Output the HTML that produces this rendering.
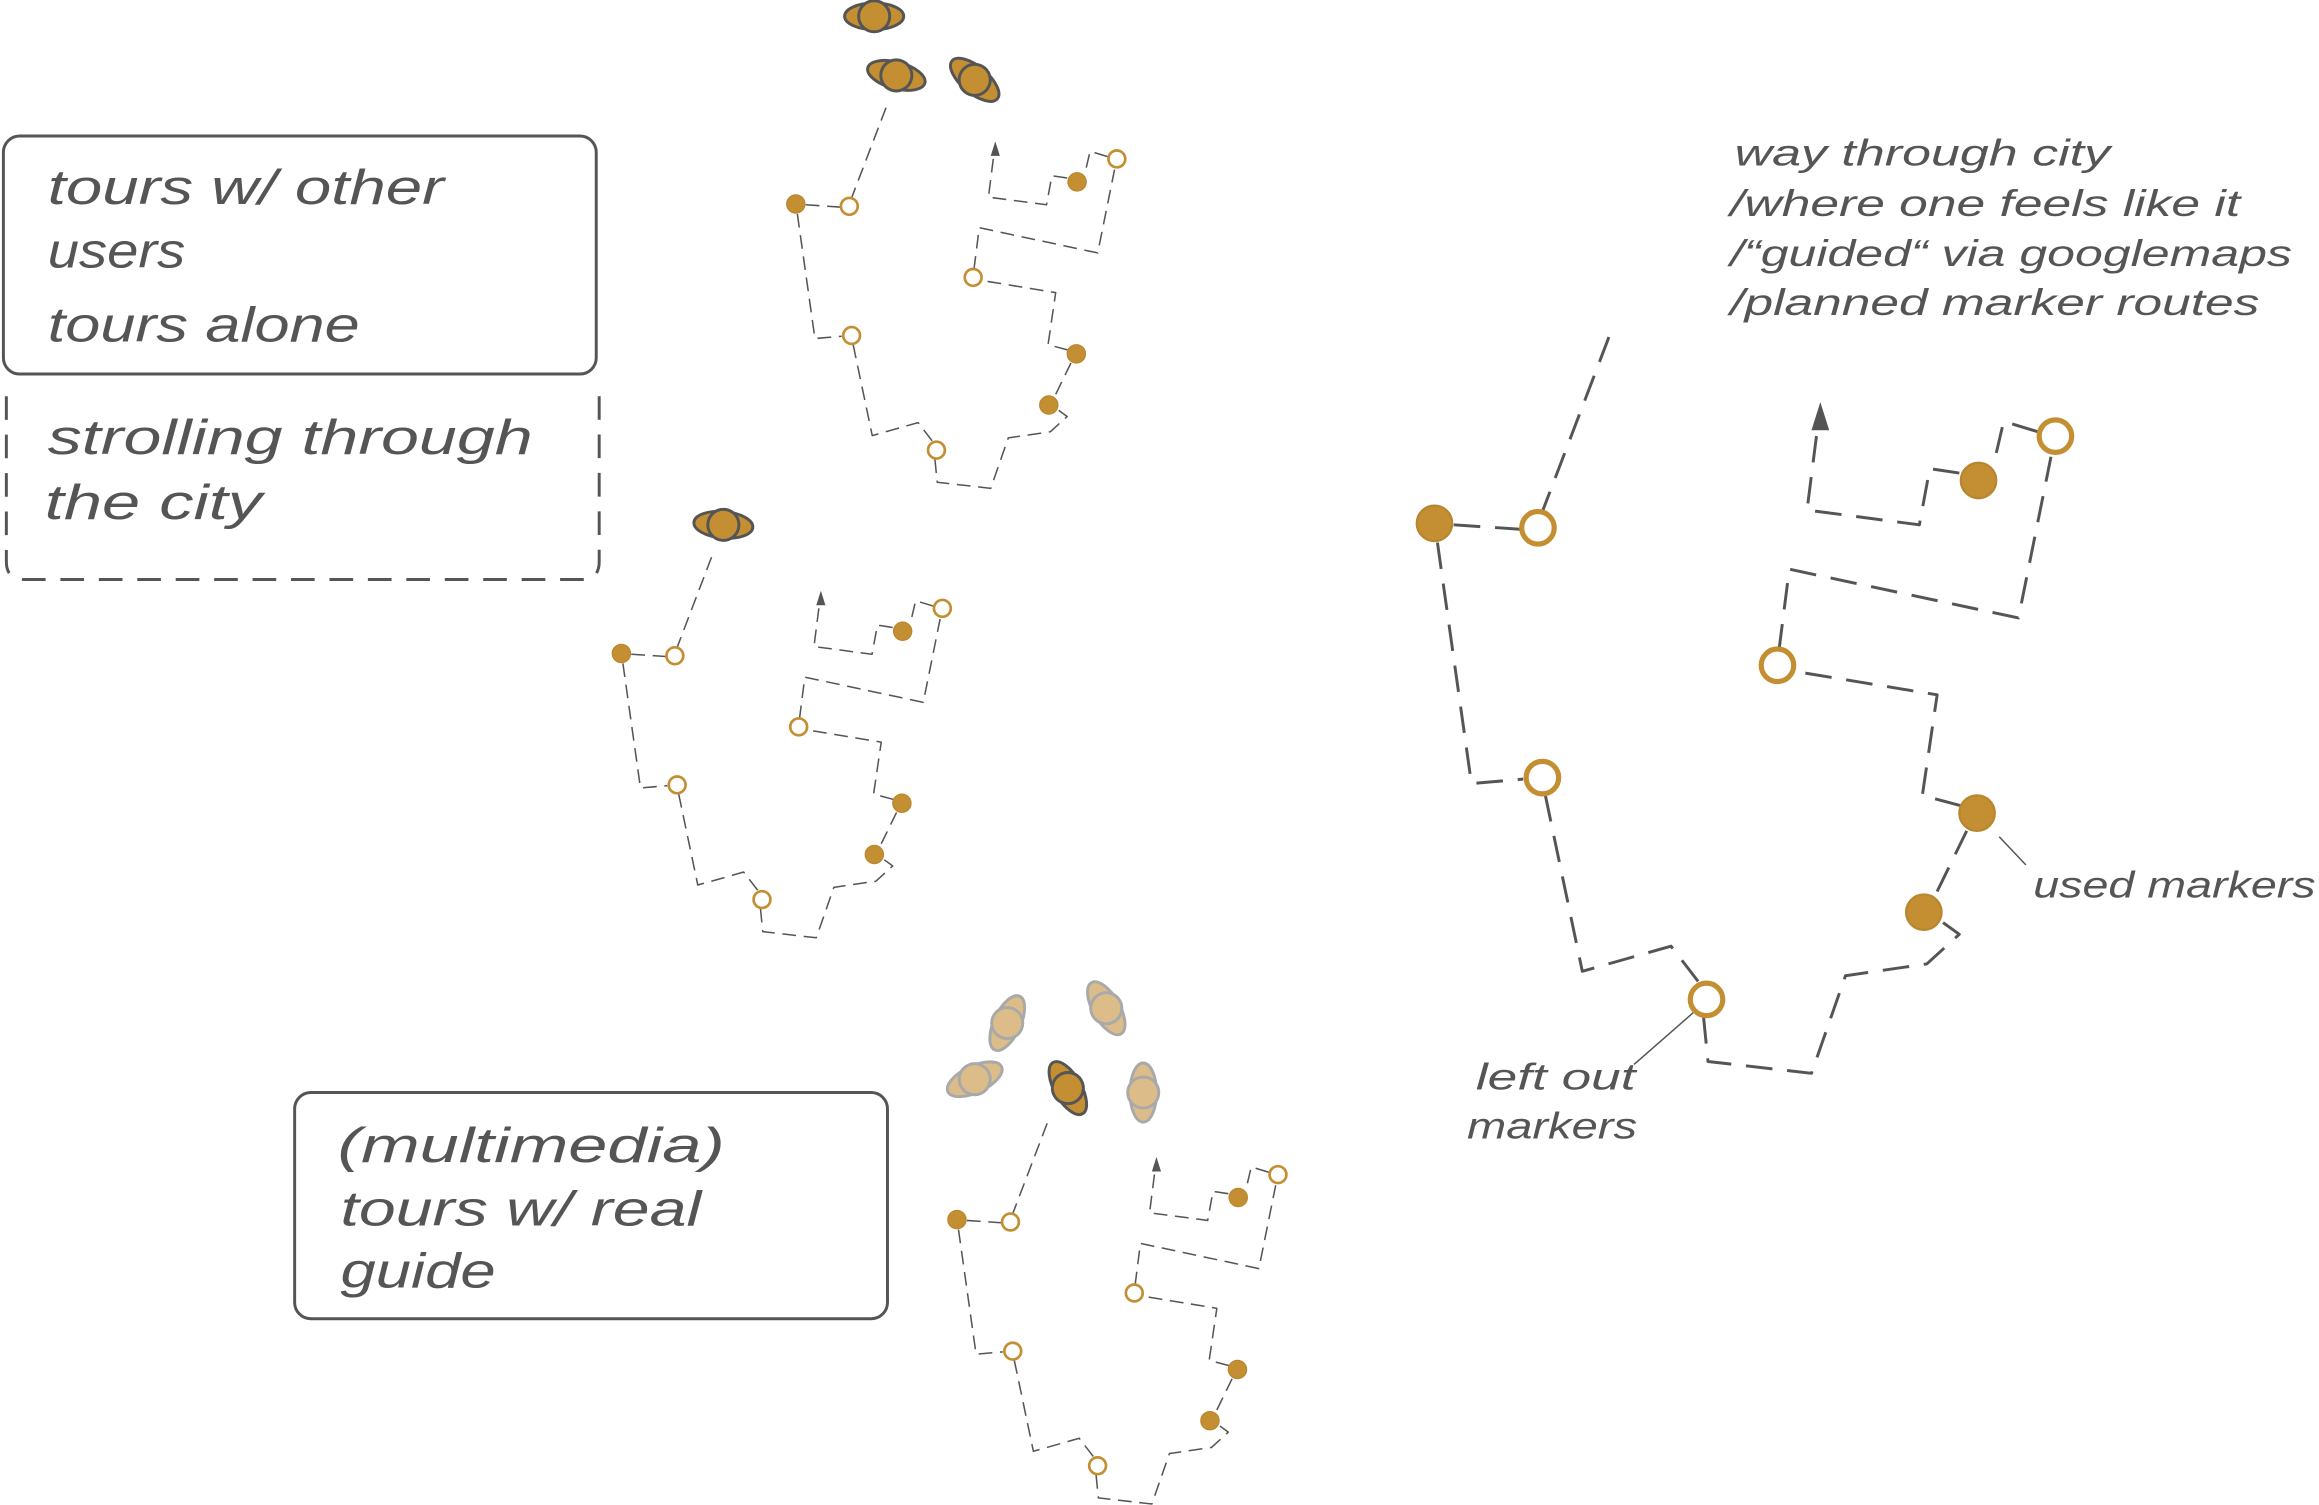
<!DOCTYPE html>
<html><head><meta charset="utf-8"><style>
html,body{margin:0;padding:0;background:#fff;}
svg{display:block;}
text{font-family:"Liberation Sans",sans-serif;font-style:italic;fill:#555;}
</style></head><body>
<svg width="2319" height="1505" viewBox="0 0 1568 1018" xmlns="http://www.w3.org/2000/svg">
<defs>
<g id="route">
 <g fill="none" stroke="#555" stroke-width="2" stroke-dasharray="18 10" stroke-linejoin="round">
  <polyline points="1088,228 1043,346"/>
  <polyline points="983,355 1028,358"/>
  <polyline points="972,367 995,530 1030,527"/>
  <polyline points="1045,538 1070,657 1130,640 1150,666"/>
  <polyline points="1152,688 1155,718 1225,726 1248,660 1303,652 1325,632 1314,624"/>
  <polyline points="1310,603 1330,562"/>
  <polyline points="1326,545 1300,538 1310,470 1213,454"/>
  <polyline points="1203,440 1210,385 1365,418 1387,309"/>
  <polyline points="1378,292 1355,285 1348,315"/>
  <polyline points="1325,320 1305,317 1298,355 1222,345 1229,290"/>
 </g>
 <polygon points="1231,272 1225,291 1237,291" fill="#555"/>
 <g fill="#c38f32" stroke="#b8862e" stroke-width="1.5">
  <circle cx="970" cy="354" r="12"/>
  <circle cx="1338" cy="325" r="12"/>
  <circle cx="1337" cy="550" r="12"/>
  <circle cx="1301" cy="617" r="12"/>
 </g>
 <g fill="none" stroke="#c38f32" stroke-width="3.5">
  <circle cx="1040" cy="357" r="11"/>
  <circle cx="1390" cy="295" r="11"/>
  <circle cx="1202" cy="450" r="11"/>
  <circle cx="1043" cy="526" r="11"/>
  <circle cx="1154" cy="676" r="11"/>
 </g>
</g>
<g id="p"><ellipse cx="0" cy="0" rx="20" ry="9"/><circle cx="0" cy="0" r="10.5"/></g>
</defs>

<rect x="2" y="92" width="401" height="161" rx="11" fill="none" stroke="#555" stroke-width="2"/>
<path d="M4,268 V380 Q4,392 16,392 H393 Q405,392 405,380 V268" fill="none" stroke="#555" stroke-width="2" stroke-dasharray="16 10"/>
<rect x="199" y="739" width="401" height="153" rx="11" fill="none" stroke="#555" stroke-width="2"/>

<g font-size="33" lengthAdjust="spacingAndGlyphs">
 <text x="32" y="138" textLength="268" lengthAdjust="spacingAndGlyphs">tours w/ other</text>
 <text x="32" y="181" textLength="93" lengthAdjust="spacingAndGlyphs">users</text>
 <text x="32" y="231" textLength="211" lengthAdjust="spacingAndGlyphs">tours alone</text>
 <text x="32" y="307" textLength="328" lengthAdjust="spacingAndGlyphs">strolling through</text>
 <text x="30" y="351" textLength="147" lengthAdjust="spacingAndGlyphs">the city</text>
 <text x="228" y="786" textLength="262" lengthAdjust="spacingAndGlyphs">(multimedia)</text>
 <text x="230" y="829" textLength="244" lengthAdjust="spacingAndGlyphs">tours w/ real</text>
 <text x="230" y="871" textLength="105" lengthAdjust="spacingAndGlyphs">guide</text>
</g>

<g font-size="25">
 <text x="1173" y="112" textLength="254" lengthAdjust="spacingAndGlyphs">way through city</text>
 <text x="1170" y="146" textLength="345" lengthAdjust="spacingAndGlyphs">/where one feels like it</text>
 <text x="1170" y="180" textLength="380" lengthAdjust="spacingAndGlyphs">/“guided“ via googlemaps</text>
 <text x="1170" y="213" textLength="358" lengthAdjust="spacingAndGlyphs">/planned marker routes</text>
 <text x="1375" y="607" textLength="191" lengthAdjust="spacingAndGlyphs">used markers</text>
 <text x="998" y="737" textLength="108" lengthAdjust="spacingAndGlyphs">left out</text>
 <text x="992" y="770" textLength="115" lengthAdjust="spacingAndGlyphs">markers</text>
</g>
<line x1="1352" y1="566" x2="1370" y2="585" stroke="#555" stroke-width="1"/>
<line x1="1105" y1="720" x2="1145" y2="685" stroke="#555" stroke-width="1"/>

<use href="#route"/>
<g transform="translate(538,138) scale(0.517) translate(-970,-354)"><use href="#route"/></g>
<g transform="translate(420,442) scale(0.517) translate(-970,-354)"><use href="#route"/></g>
<g transform="translate(647,825) scale(0.517) translate(-970,-354)"><use href="#route"/></g>

<g fill="#c38f32" stroke="#555" stroke-width="2">
 <use href="#p" transform="translate(591,11)"/>
 <use href="#p" transform="translate(606,51) rotate(15)"/>
 <use href="#p" transform="translate(659,54) rotate(40)"/>
 <use href="#p" transform="translate(489,355) rotate(5)"/>
 <use href="#p" transform="translate(722,736) rotate(60)"/>
</g>
<g fill="#dcbd8a" stroke="#a9a9a9" stroke-width="2">
 <use href="#p" transform="translate(681,692) rotate(-65)"/>
 <use href="#p" transform="translate(748,682) rotate(60)"/>
 <use href="#p" transform="translate(659,730) rotate(-25)"/>
 <use href="#p" transform="translate(773,739) rotate(90)"/>
</g>
</svg>
</body></html>
